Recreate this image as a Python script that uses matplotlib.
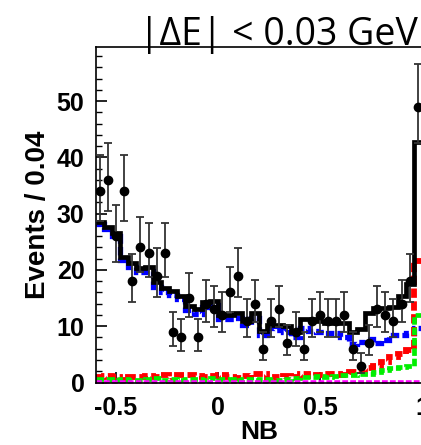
import numpy as np
import matplotlib
matplotlib.use('Agg')
import matplotlib.pyplot as plt

# NB bins: 40 bins of 0.04 from -0.6 to 1.0
edges = np.linspace(-0.6, 1.0, 41)
centers = 0.5 * (edges[:-1] + edges[1:])

# data points (events per bin)
data = [34, 36, 26, 34, 18, 24, 23, 19, 23, 9,
        8, 15, 8, 14, 13, 12, 16, 19, 11, 14,
        6, 11, 13, 7, 9, 6, 11, 12, 11, 11,
        12, 6, 3, 7, 13, 12, 11, 14, 18, 49]

# total fit (black)
total = [28.6, 27.6, 26.5, 22.3, 21.2, 20.3, 20.6, 17.8, 16.8, 16.2,
         15.4, 13.6, 13.0, 14.3, 14.5, 12.0, 12.0, 12.3, 11.0, 12.3,
         9.2, 10.3, 10.3, 10.0, 9.0, 11.2, 11.2, 11.0, 10.5, 10.5,
         10.5, 9.0, 9.5, 12.3, 13.2, 13.2, 13.4, 15.3, 17.5, 42.7]

# continuum (blue)
blue = [28.2, 27.2, 26.0, 21.8, 20.6, 19.6, 19.8, 17.0, 16.0, 15.5,
        14.8, 12.8, 12.2, 13.5, 13.8, 11.2, 11.3, 11.5, 10.2, 11.5,
        8.4, 9.6, 9.4, 9.0, 8.0, 9.6, 9.2, 9.0, 8.8, 8.8,
        8.0, 6.8, 7.2, 7.8, 7.0, 7.5, 8.5, 8.5, 8.8, 9.7]

# signal (red)
red = [1.0, 1.2, 1.0, 0.5, 1.0, 0.9, 1.1, 1.0, 1.3, 0.3,
       1.4, 1.3, 1.2, 0.9, 1.1, 1.3, 1.0, 0.8, 1.2, 1.5,
       1.6, 0.5, 0.9, 1.2, 1.0, 1.5, 1.1, 1.4, 1.6, 1.5,
       1.3, 1.8, 2.0, 2.5, 3.0, 3.6, 4.5, 5.0, 5.8, 21.5]

# other B background (green)
green = [0.6, 0.7, 0.5, 0.6, 0.4, 0.5, 0.6, 0.8, 0.5, 0.6,
         0.4, 0.7, 0.6, 0.5, 0.8, 0.6, 0.7, 0.5, 0.6, 0.5,
         0.7, 0.6, 0.5, 0.6, 0.8, 0.9, 1.0, 1.1, 1.0, 1.2,
         1.3, 1.4, 1.5, 1.6, 1.8, 2.2, 2.6, 2.8, 3.0, 12.0]

# peaking background (magenta)
magenta = [0.1] * 40

fig = plt.figure(figsize=(4.21, 4.45), dpi=100)
ax = fig.add_axes([0.2271, 0.1404, 0.7753, 0.7539])

dash = (0, (1.6, 0.6))
ax.stairs(blue, edges, baseline=None, color='#0000ff', lw=3.8, ls=dash, clip_on=False, zorder=2)
ax.stairs(red, edges, baseline=None, color='#ff0000', lw=4.2, ls=dash, clip_on=False, zorder=2)
ax.stairs(green, edges, baseline=None, color='#00ee00', lw=3.4, ls=dash, clip_on=False, zorder=2.1)
ax.stairs(magenta, edges, baseline=None, color='#ff00ff', lw=2.6, ls=dash, clip_on=False, zorder=2.2)
ax.stairs(total, edges, baseline=None, color='black', lw=3.4, zorder=3)

n = np.array(data, dtype=float)
err_hi = np.sqrt(n + 0.25) + 0.5
err_lo = np.sqrt(n + 0.25) - 0.5
ax.errorbar(centers, n, yerr=[err_lo, err_hi], fmt='o', color='black', ms=6,
            ecolor='#333333', elinewidth=1.3, capsize=3, capthick=1.3, zorder=4)

ax.set_xlim(-0.6, 1.0)
ax.set_ylim(0, 59.6)
ax.set_xticks([-0.5, 0, 0.5, 1.0])
ax.set_xticklabels(['-0.5', '0', '0.5', '1'])
ax.set_yticks([0, 10, 20, 30, 40, 50])
ax.set_yticks(np.arange(0, 60, 2), minor=True)
ax.tick_params(axis='both', which='major', direction='in', length=8, width=1.2,
               labelsize=18)
ax.tick_params(axis='y', which='major', pad=8)
ax.tick_params(axis='x', which='major', pad=10)
ax.tick_params(axis='y', which='minor', direction='in', length=4, width=1.0)
for lab in ax.get_xticklabels() + ax.get_yticklabels():
    lab.set_fontweight('bold')
    lab.set_family('Liberation Sans')
for sp in ax.spines.values():
    sp.set_linewidth(1.2)

ax.set_xlabel('NB', fontsize=19, fontweight='bold', family='Liberation Sans', labelpad=0)
ax.set_ylabel('Events / 0.04', fontsize=20, fontweight='bold', family='Liberation Sans', labelpad=4)

fig.text(418 / 421, 1 - 45 / 445, '|\u0394E| < 0.03 GeV', ha='right', va='baseline',
         fontsize=27, family=['Open Sans', 'DejaVu Sans'])

fig.savefig('out.png', dpi=100)
